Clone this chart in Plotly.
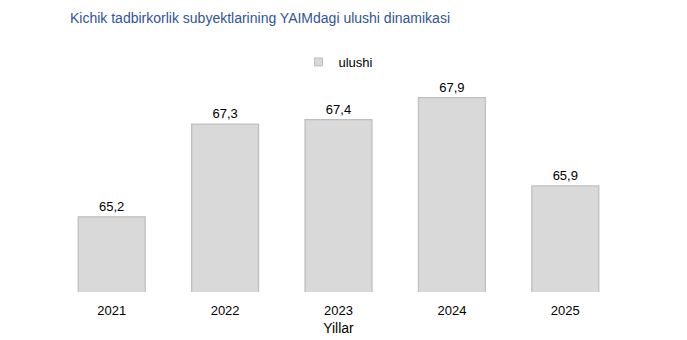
import plotly.graph_objects as go

years = ["2021", "2022", "2023", "2024", "2025"]
ulushi = [65.2, 67.3, 67.4, 67.9, 65.9]
labels = [f"{v:.1f}".replace(".", ",") for v in ulushi]

fig = go.Figure()
fig.add_trace(go.Bar(
    x=years, y=ulushi, name="ulushi", showlegend=False,
    text=labels, textposition="outside", cliponaxis=False,
    textfont=dict(family="Liberation Sans, Arial", size=13, color="#000000"),
    marker=dict(color="#d9d9d9", line=dict(color="#bfbfbf", width=1.3)),
    width=0.59,
))
fig.add_trace(go.Scatter(
    x=[None], y=[None], name="ulushi", mode="markers",
    marker=dict(symbol="square", size=8, color="#d9d9d9", line=dict(color="#bfbfbf", width=1)),
))
fig.update_layout(
    width=687, height=340,
    margin=dict(l=55, r=65, t=75, b=48, autoexpand=False),
    paper_bgcolor="white", plot_bgcolor="white",
    font=dict(family="Liberation Sans, Arial", size=13, color="#000000"),
    title=dict(text="Kichik tadbirkorlik subyektlarining YAIMdagi ulushi dinamikasi",
               x=70/687, xanchor="left", y=1-18/340, yanchor="middle",
               font=dict(size=14, color="#2f5597")),
    showlegend=True,
    legend=dict(orientation="h", x=0.5, xanchor="center", y=1 + (75-62)/217,
                yanchor="middle", font=dict(size=13), itemwidth=30),
    xaxis=dict(showline=False, ticks="outside", ticklen=6, tickcolor="white", showgrid=False,
               title=dict(text="Yillar", font=dict(size=14), standoff=6),
               tickfont=dict(size=13)),
    yaxis=dict(visible=False, range=[63.5, 68.41]),
    bargap=0.41,
)
fig.write_html("out.html")
